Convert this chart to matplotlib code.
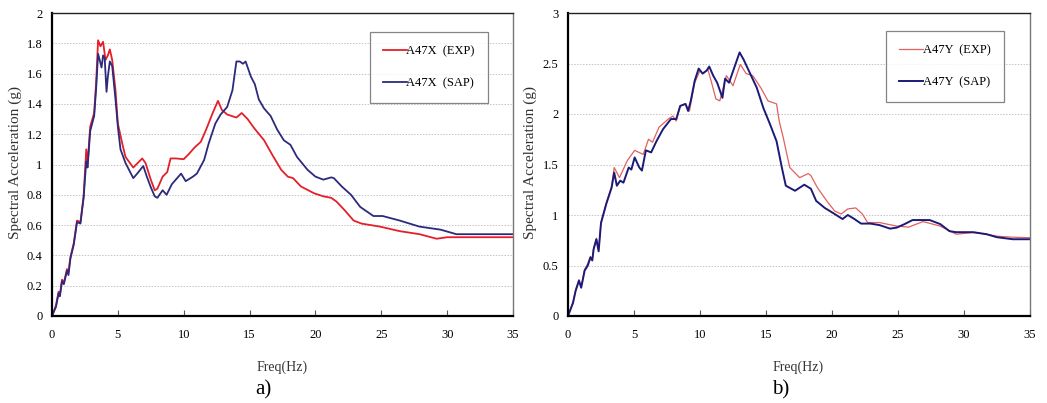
import matplotlib
matplotlib.use("Agg")
import matplotlib.pyplot as plt
from matplotlib.ticker import FuncFormatter

# ---------------- data: panel a) ----------------
a_exp_f = [0, 0.3, 0.5, 0.6, 0.76, 0.9, 1.14, 1.25, 1.4, 1.65, 1.8, 1.9, 2.16, 2.3, 2.4, 2.6, 2.7, 2.9, 3.2, 3.35, 3.5,
           3.68, 3.88, 4.06, 4.24, 4.39, 4.57, 4.82, 5.0, 5.33, 5.58, 6.17, 6.85, 7.1, 7.5, 7.8, 8.0,
           8.4, 8.75, 9.0, 9.4, 10.0, 10.4, 10.8, 11.3, 11.7, 12.2, 12.6, 12.9, 13.3, 14.0, 14.4,
           14.85, 15.35, 16.1, 16.75, 17.4, 17.9, 18.3, 18.9, 19.9, 20.6, 21.2, 21.6, 22.2, 22.9,
           23.5, 24.9, 26.4, 27.9, 29.2, 30.0, 35.0]
a_exp_v = [0, 0.07, 0.16, 0.14, 0.24, 0.22, 0.31, 0.29, 0.39, 0.48, 0.57, 0.63, 0.62, 0.72, 0.79, 1.10, 1.00, 1.25, 1.34, 1.54,
           1.82, 1.78, 1.81, 1.69, 1.72, 1.76, 1.69, 1.49, 1.27, 1.14, 1.05, 0.98, 1.04, 1.01, 0.90,
           0.83, 0.84, 0.92, 0.95, 1.04, 1.04, 1.035, 1.07, 1.11, 1.15, 1.23, 1.34, 1.42, 1.36, 1.33,
           1.31, 1.34, 1.30, 1.24, 1.16, 1.06, 0.965, 0.92, 0.91, 0.855, 0.81, 0.79, 0.78, 0.755, 0.70,
           0.63, 0.61, 0.59, 0.56, 0.54, 0.51, 0.52, 0.52]

a_sap_f = [0, 0.3, 0.5, 0.6, 0.76, 0.9, 1.14, 1.25, 1.4, 1.65, 1.8, 1.9, 2.16, 2.3, 2.4, 2.6, 2.7, 2.9, 3.2, 3.35, 3.5,
           3.62, 3.76, 3.88, 4.0, 4.14, 4.24, 4.39, 4.57, 4.82, 5.0, 5.2, 5.58, 6.17, 6.47, 6.93, 7.2,
           7.5, 7.8, 8.0, 8.4, 8.7, 9.1, 9.8, 10.15, 10.7, 11.0, 11.55, 11.9, 12.4, 12.8, 13.3, 13.7,
           14.0, 14.25, 14.5, 14.7, 15.1, 15.4, 15.7, 16.1, 16.6, 17.1, 17.6, 18.1, 18.6, 19.4, 20.0,
           20.6, 21.2, 21.4, 22.0, 22.7, 23.4, 24.4, 25.1, 26.4, 27.9, 29.5, 30.7, 35.0]
a_sap_v = [0, 0.06, 0.15, 0.13, 0.23, 0.21, 0.30, 0.27, 0.38, 0.47, 0.56, 0.62, 0.61, 0.71, 0.78, 1.02, 0.98, 1.22, 1.32, 1.50,
           1.73, 1.69, 1.64, 1.72, 1.70, 1.48, 1.58, 1.68, 1.65, 1.43, 1.25, 1.10, 1.01, 0.91, 0.94,
           0.99, 0.92, 0.85, 0.79, 0.78, 0.83, 0.80, 0.87, 0.94, 0.89, 0.92, 0.94, 1.03, 1.14, 1.27,
           1.33, 1.38, 1.49, 1.68, 1.68, 1.665, 1.68, 1.58, 1.53, 1.43, 1.37, 1.32, 1.23, 1.16, 1.13,
           1.05, 0.965, 0.92, 0.90, 0.915, 0.91, 0.855, 0.80, 0.72, 0.66, 0.66, 0.63, 0.59, 0.57,
           0.54, 0.54]

# ---------------- data: panel b) ----------------
b_exp_f = [0, 0.38, 0.58, 0.83, 1.0, 1.26, 1.5, 1.7, 1.84, 1.94, 2.15, 2.32, 2.5, 2.9, 3.3, 3.5,
           3.9, 4.5, 5.05, 5.7, 6.1, 6.4, 6.9, 7.6, 7.95, 8.2, 8.5, 8.9, 9.2, 9.6, 10.0, 10.2, 10.6,
           10.9, 11.2, 11.5, 12.0, 12.5, 13.05, 13.5, 14.0, 14.65, 15.15, 15.8, 16.0, 16.3, 16.8,
           17.55, 18.2, 18.4, 18.9, 19.6, 20.2, 20.7, 21.2, 21.8, 22.3, 22.7, 23.6, 24.9, 25.8, 26.9,
           28.2, 29.4, 30.7, 31.7, 32.5, 33.7, 35.0]
b_exp_v = [0, 0.14, 0.26, 0.36, 0.29, 0.46, 0.52, 0.59, 0.56, 0.67, 0.77, 0.65, 0.93, 1.12, 1.28, 1.47,
           1.37, 1.54, 1.64, 1.60, 1.75, 1.72, 1.87, 1.95, 1.98, 1.93, 2.08, 2.10, 2.03, 2.31, 2.43,
           2.40, 2.44, 2.30, 2.15, 2.13, 2.38, 2.28, 2.49, 2.40, 2.38, 2.25, 2.13, 2.10, 1.93, 1.77,
           1.47, 1.37, 1.41, 1.39, 1.27, 1.14, 1.04, 1.01, 1.06, 1.07, 1.01, 0.925, 0.925, 0.89,
           0.88, 0.935, 0.89, 0.81, 0.826, 0.81, 0.79, 0.78, 0.775]

b_sap_f = [0, 0.38, 0.58, 0.83, 1.0, 1.26, 1.5, 1.7, 1.84, 1.94, 2.15, 2.32, 2.5, 2.9, 3.3, 3.5,
           3.7, 3.96, 4.2, 4.6, 4.8, 5.05, 5.4, 5.6, 5.9, 6.3, 6.7, 7.2, 7.8, 8.2, 8.5, 8.9, 9.1, 9.3,
           9.6, 9.9, 10.2, 10.5, 10.7, 11.0, 11.3, 11.7, 11.9, 12.2, 12.6, 13.0, 13.3, 13.8, 14.3,
           14.8, 15.3, 15.8, 16.2, 16.5, 17.2, 17.9, 18.4, 18.8, 19.45, 20.2, 20.8, 21.2, 21.7, 22.2,
           22.9, 23.6, 24.4, 24.9, 25.5, 26.1, 27.4, 28.2, 28.9, 29.4, 30.7, 31.7, 32.5, 33.7, 35.0]
b_sap_v = [0, 0.13, 0.25, 0.35, 0.28, 0.45, 0.50, 0.58, 0.55, 0.66, 0.76, 0.64, 0.92, 1.11, 1.27, 1.42,
           1.29, 1.34, 1.32, 1.47, 1.45, 1.57, 1.47, 1.44, 1.64, 1.62, 1.73, 1.85, 1.95, 1.95, 2.08,
           2.10, 2.03, 2.13, 2.33, 2.45, 2.40, 2.43, 2.47, 2.38, 2.31, 2.16, 2.35, 2.31, 2.46, 2.61,
           2.54, 2.40, 2.26, 2.06, 1.90, 1.73, 1.47, 1.29, 1.24, 1.30, 1.26, 1.14, 1.07, 1.01, 0.96,
           1.00, 0.96, 0.915, 0.915, 0.90, 0.865, 0.875, 0.91, 0.95, 0.95, 0.91, 0.84, 0.83, 0.83,
           0.81, 0.78, 0.76, 0.76]

x_ticks = [0, 5, 10, 15, 20, 25, 30, 35]
a_yticks = [0, 0.2, 0.4, 0.6, 0.8, 1.0, 1.2, 1.4, 1.6, 1.8, 2.0]
b_yticks = [0, 0.5, 1.0, 1.5, 2.0, 2.5, 3.0]
a_labels = ["A47X  (EXP)", "A47X  (SAP)"]
b_labels = ["A47Y  (EXP)", "A47Y  (SAP)"]

# ---------------- drawing ----------------
plt.rcParams['font.family'] = ['Liberation Serif', 'DejaVu Serif']

fig = plt.figure(figsize=(10.47, 4.03), dpi=100)
W, H = 1047, 403

def fmt(v, pos):
    return ('%.1f' % v).rstrip('0').rstrip('.')

def setup(ax, yticks, ymax):
    ax.set_xlim(0, 35)
    ax.set_ylim(0, ymax)
    ax.set_xticks(x_ticks)
    ax.set_yticks(yticks)
    ax.yaxis.set_major_formatter(FuncFormatter(fmt))
    ax.tick_params(axis='x', direction='in', length=4, pad=9, labelsize=9, color='#555555')
    ax.tick_params(axis='y', length=0, pad=7, labelsize=9)
    ax.grid(axis='y', linestyle=(0, (1.5, 1.5)), color='#c4c4c4', linewidth=0.7)
    ax.set_axisbelow(True)
    for s in ['left', 'bottom']:
        ax.spines[s].set_linewidth(1.6)
        ax.spines[s].set_color('black')
    ax.spines['top'].set_linewidth(1.0)
    ax.spines['top'].set_color('#222222')
    ax.spines['right'].set_linewidth(1.0)
    ax.spines['right'].set_color('#777777')

def legend(ax, handles, labels, right, top):
    leg = ax.legend(handles, labels, loc='upper right', bbox_to_anchor=(right / W, 1 - top / H),
                    bbox_transform=fig.transFigure, fontsize=9, frameon=True, fancybox=False,
                    edgecolor='#666666', handlelength=1.9, handletextpad=0.0, labelspacing=1.65,
                    borderpad=1.05, borderaxespad=0)
    leg.get_frame().set_linewidth(0.9)
    leg.set_zorder(5)
    return leg

# panel a
ax1 = fig.add_axes([52 / W, 1 - 316 / H, 461 / W, 303 / H])
setup(ax1, a_yticks, 2.0)
l1, = ax1.plot(a_exp_f, a_exp_v, color='#e3202a', lw=1.3)
l2, = ax1.plot(a_sap_f, a_sap_v, color='#2b2a7c', lw=1.3)
legend(ax1, [l1, l2], a_labels, 488, 32)

# panel b
ax2 = fig.add_axes([568 / W, 1 - 316 / H, 462 / W, 303 / H])
setup(ax2, b_yticks, 3.0)
l3, = ax2.plot(b_exp_f, b_exp_v, color='#e2605e', lw=0.9)
l4, = ax2.plot(b_sap_f, b_sap_v, color='#1c1a78', lw=1.4)
legend(ax2, [l3, l4], b_labels, 1004, 31)

# axis titles and panel labels
for xc, yl_x, tag, fx in [(282, 15, 'a)', 263), (798, 530, 'b)', 781)]:
    fig.text(xc / W, 1 - 367 / H, 'Freq(Hz)', ha='center', va='center', fontsize=10, color='#333333')
    fig.text(yl_x / W, 1 - 163 / H, 'Spectral Acceleration (g)', rotation=90, ha='center',
             va='center', fontsize=11, color='#333333')
    fig.text(fx / W, 1 - 390 / H, tag, ha='center', va='center', fontsize=15)

fig.savefig('out.png', dpi=100)
